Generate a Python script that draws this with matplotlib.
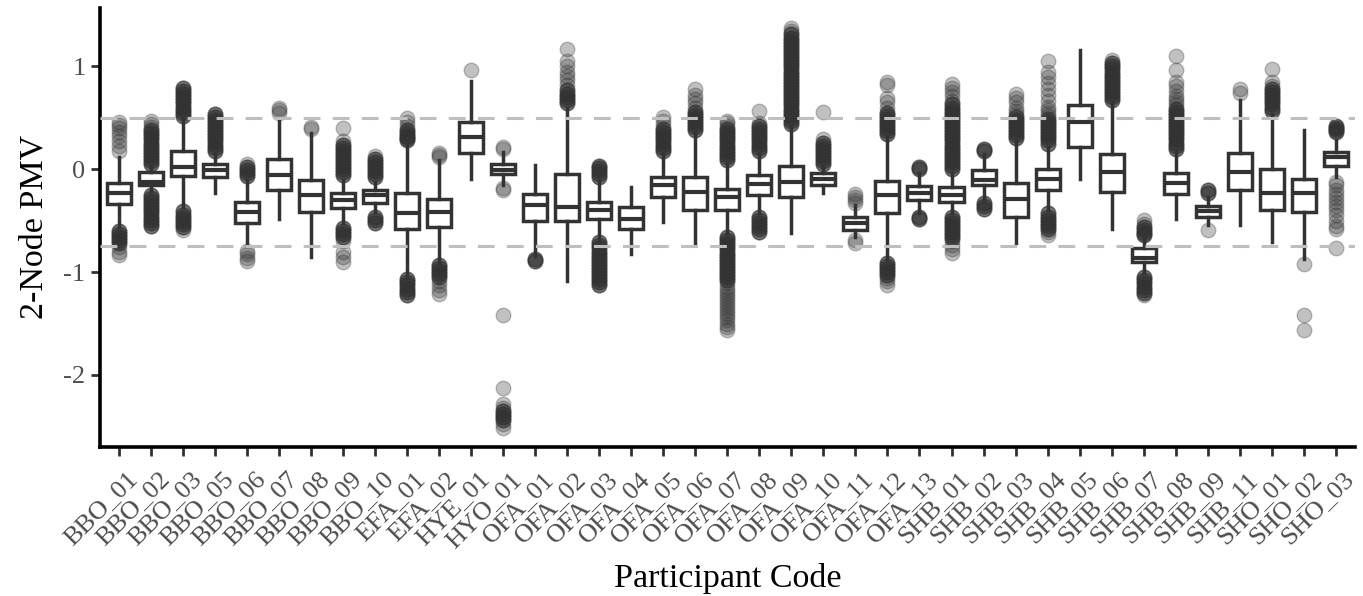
import matplotlib
matplotlib.use("Agg")
import matplotlib.pyplot as plt
from matplotlib.transforms import ScaledTranslation

plt.rcParams['font.family'] = ['Liberation Serif', 'DejaVu Serif']

participants = ["BBO_01", "BBO_02", "BBO_03", "BBO_05", "BBO_06", "BBO_07", "BBO_08", "BBO_09", "BBO_10",
                "EFA_01", "EFA_02", "HYE_01", "HYO_01", "OFA_01", "OFA_02", "OFA_03", "OFA_04", "OFA_05",
                "OFA_06", "OFA_07", "OFA_08", "OFA_09", "OFA_10", "OFA_11", "OFA_12", "OFA_13", "SHB_01",
                "SHB_02", "SHB_03", "SHB_04", "SHB_05", "SHB_06", "SHB_07", "SHB_08", "SHB_09", "SHB_11",
                "SHO_01", "SHO_02", "SHO_03"]

medians = [-0.23, -0.12, 0.02, -0.01, -0.415, -0.06, -0.25, -0.30, -0.25,
           -0.43, -0.42, 0.31, -0.01, -0.35, -0.37, -0.40, -0.48, -0.15,
           -0.22, -0.27, -0.14, -0.12, -0.09, -0.52, -0.25, -0.23, -0.25,
           -0.107, -0.29, -0.09, 0.46, -0.03, -0.86, -0.13, -0.41, -0.03,
           -0.23, -0.23, 0.12]
q1 = [-0.34, -0.155, -0.07, -0.075, -0.52, -0.20, -0.42, -0.38, -0.33,
      -0.58, -0.56, 0.16, -0.05, -0.50, -0.50, -0.48, -0.58, -0.27,
      -0.40, -0.40, -0.25, -0.27, -0.155, -0.59, -0.43, -0.30, -0.32,
      -0.155, -0.46, -0.20, 0.22, -0.22, -0.90, -0.24, -0.46, -0.20,
      -0.40, -0.42, 0.03]
q3 = [-0.133, -0.03, 0.18, 0.055, -0.32, 0.10, -0.10, -0.23, -0.20,
      -0.23, -0.29, 0.46, 0.055, -0.24, -0.05, -0.32, -0.37, -0.075,
      -0.075, -0.19, -0.06, 0.03, -0.04, -0.46, -0.11, -0.165, -0.17,
      -0.01, -0.13, 0.0, 0.62, 0.15, -0.77, -0.04, -0.36, 0.16,
      0.0, -0.09, 0.17]
whisker_low = [-0.56, -0.21, -0.37, -0.23, -0.75, -0.48, -0.85, -0.52, -0.42,
               -1.05, -0.91, -0.09, -0.155, -0.84, -1.09, -0.69, -0.82, -0.51,
               -0.74, -0.62, -0.43, -0.62, -0.23, -0.66, -0.88, -0.43, -0.43,
               -0.30, -0.72, -0.40, -0.09, -0.58, -1.01, -0.48, -0.54, -0.54,
               -0.71, -0.87, -0.075]
whisker_high = [0.12, 0.02, 0.50, 0.15, -0.10, 0.48, 0.35, -0.10, -0.12,
                0.25, 0.09, 0.86, 0.17, 0.04, 0.60, -0.11, -0.17, 0.15,
                0.35, 0.06, 0.15, 0.41, 0.02, -0.35, 0.31, -0.04, -0.04,
                0.15, 0.27, 0.22, 1.16, 0.64, -0.66, 0.17, -0.27, 0.67,
                0.54, 0.385, 0.28]

# Isolated outlying observations (one observation each)
outliers_single = [
    [0.46, 0.43, 0.40, 0.36, 0.32, 0.27, 0.23, 0.18, -0.76, -0.80, -0.83],      # BBO_01
    [0.41, 0.44, 0.47],                                                          # BBO_02
    [-0.59],                                                                     # BBO_03
    [],                                                                          # BBO_05
    [0.05, -0.79, -0.82, -0.86, -0.89],                                          # BBO_06
    [0.55, 0.58, 0.60],                                                          # BBO_07
    [0.39, 0.41],                                                                # BBO_08
    [0.27, 0.40, -0.70, -0.80, -0.85, -0.90],                                    # BBO_09
    [0.13],                                                                      # BBO_10
    [0.42, 0.46, 0.50],                                                          # EFA_01
    [0.12, 0.14, 0.16, -1.09, -1.13, -1.17, -1.21],                              # EFA_02
    [0.96],                                                                      # HYE_01
    [0.20, 0.22, -0.18, -0.20, -1.42, -2.13, -2.28, -2.32, -2.48, -2.52],        # HYO_01
    [],                                                                          # OFA_01
    [0.82, 0.87, 0.91, 0.95, 1.00, 1.05, 1.17],                                  # OFA_02
    [],                                                                          # OFA_03
    [],                                                                          # OFA_04
    [0.43, 0.47, 0.51],                                                          # OFA_05
    [0.60, 0.64, 0.68, 0.72, 0.78],                                              # OFA_06
    [0.42, 0.45, 0.47, -1.11, -1.14, -1.17, -1.20, -1.23, -1.26, -1.29, -1.32,
     -1.35, -1.38, -1.41, -1.44, -1.47, -1.50, -1.53, -1.56],                    # OFA_07
    [0.45, 0.57],                                                                # OFA_08
    [1.34, 1.37],                                                                # OFA_09
    [0.29, 0.56],                                                                # OFA_10
    [-0.24, -0.27, -0.30, -0.33, -0.69, -0.72],                                  # OFA_11
    [0.60, 0.65, 0.69, 0.82, 0.85, -1.06, -1.09, -1.13],                         # OFA_12
    [],                                                                          # OFA_13
    [0.66, 0.71, 0.75, 0.79, 0.83, -0.70, -0.74, -0.78, -0.81],                  # SHB_01
    [],                                                                          # SHB_02
    [0.54, 0.57, 0.60, 0.65, 0.69, 0.73],                                        # SHB_03
    [0.52, 0.55, 0.58, 0.61, 0.66, 0.72, 0.78, 0.84, 0.90, 0.95, 1.05,
     -0.61, -0.64],                                                              # SHB_04
    [],                                                                          # SHB_05
    [1.06],                                                                      # SHB_06
    [-0.49, -0.53, -1.22],                                                       # SHB_07
    [0.62, 0.65, 0.68, 0.71, 0.76, 0.81, 0.85, 0.96, 1.10],                      # SHB_08
    [-0.59],                                                                     # SHB_09
    [0.74, 0.78],                                                                # SHB_11
    [0.81, 0.85, 0.97],                                                          # SHO_01
    [-0.92, -1.42, -1.56],                                                       # SHO_02
    [-0.12, -0.15, -0.20, -0.24, -0.28, -0.32, -0.36, -0.40, -0.44, -0.50,
     -0.55, -0.58, -0.77],                                                       # SHO_03
]

# Heavily overplotted outlying values (several observations at each value)
outliers_dense = [
    [-0.60, -0.63, -0.66, -0.69, -0.72],                                         # BBO_01
    [0.38, 0.35, 0.32, 0.29, 0.26, 0.23, 0.20, 0.17, 0.14, 0.11, 0.08, 0.05,
     -0.25, -0.28, -0.31, -0.34, -0.37, -0.40, -0.43, -0.46, -0.49, -0.52, -0.55],  # BBO_02
    [0.52, 0.55, 0.58, 0.61, 0.64, 0.67, 0.70, 0.73, 0.76, 0.79,
     -0.41, -0.44, -0.47, -0.50, -0.53, -0.56],                                  # BBO_03
    [0.18, 0.21, 0.24, 0.27, 0.30, 0.33, 0.36, 0.39, 0.42, 0.45, 0.48, 0.51, 0.54],  # BBO_05
    [-0.07, -0.04, -0.01, 0.02],                                                 # BBO_06
    [],                                                                          # BBO_07
    [],                                                                          # BBO_08
    [-0.06, -0.03, 0.0, 0.03, 0.06, 0.09, 0.12, 0.15, 0.18, 0.21, 0.24,
     -0.57, -0.60, -0.63, -0.66],                                                # BBO_09
    [-0.08, -0.05, -0.02, 0.01, 0.04, 0.07, 0.10, -0.46, -0.49, -0.52],          # BBO_10
    [0.28, 0.30, 0.32, 0.35, 0.38, -1.07, -1.10, -1.13, -1.16, -1.19, -1.22],    # EFA_01
    [-0.93, -0.96, -0.99, -1.02, -1.05],                                         # EFA_02
    [],                                                                          # HYE_01
    [-2.35, -2.38, -2.41, -2.44],                                                # HYO_01
    [-0.87, -0.89],                                                              # OFA_01
    [0.64, 0.67, 0.70, 0.73, 0.77],                                              # OFA_02
    [-0.08, -0.05, -0.02, 0.01, 0.03,
     -0.71, -0.74, -0.77, -0.80, -0.83, -0.86, -0.89, -0.92, -0.95, -0.98,
     -1.01, -1.04, -1.07, -1.10, -1.13],                                         # OFA_03
    [],                                                                          # OFA_04
    [0.18, 0.21, 0.24, 0.27, 0.30, 0.33, 0.36, 0.39],                            # OFA_05
    [0.38, 0.41, 0.44, 0.47, 0.50, 0.53, 0.56],                                  # OFA_06
    [0.09, 0.12, 0.15, 0.18, 0.21, 0.24, 0.27, 0.30, 0.33, 0.36, 0.39,
     -0.66, -0.69, -0.72, -0.75, -0.78, -0.81, -0.84, -0.87, -0.90, -0.93,
     -0.96, -0.99, -1.02, -1.05, -1.08],                                         # OFA_07
    [0.18, 0.21, 0.24, 0.27, 0.30, 0.33, 0.36, 0.39, 0.42,
     -0.46, -0.49, -0.52, -0.55, -0.58, -0.61],                                  # OFA_08
    [0.44, 0.47, 0.50, 0.53, 0.56, 0.59, 0.62, 0.65, 0.68, 0.71, 0.74, 0.77,
     0.80, 0.83, 0.86, 0.89, 0.92, 0.95, 0.98, 1.01, 1.04, 1.07, 1.10, 1.13,
     1.16, 1.19, 1.22, 1.25, 1.28, 1.31],                                        # OFA_09
    [0.05, 0.08, 0.11, 0.14, 0.17, 0.20, 0.23, 0.26],                            # OFA_10
    [],                                                                          # OFA_11
    [0.34, 0.37, 0.40, 0.43, 0.46, 0.49, 0.52, 0.55,
     -0.91, -0.94, -0.97, -1.00, -1.03],                                         # OFA_12
    [0.0, 0.02, -0.46, -0.48],                                                   # OFA_13
    [0.0, 0.03, 0.06, 0.09, 0.12, 0.15, 0.18, 0.21, 0.24, 0.27, 0.30, 0.33,
     0.36, 0.39, 0.42, 0.45, 0.48, 0.51, 0.54, 0.57, 0.60, 0.63,
     -0.46, -0.49, -0.52, -0.55, -0.58, -0.61, -0.64, -0.67],                    # SHB_01
    [0.18, 0.20, -0.33, -0.36, -0.39],                                           # SHB_02
    [0.30, 0.33, 0.36, 0.39, 0.42, 0.45, 0.48, 0.51],                            # SHB_03
    [0.25, 0.28, 0.31, 0.34, 0.37, 0.40, 0.43, 0.46, 0.49,
     -0.43, -0.46, -0.49, -0.52, -0.55, -0.58],                                  # SHB_04
    [],                                                                          # SHB_05
    [0.67, 0.70, 0.73, 0.76, 0.79, 0.82, 0.85, 0.88, 0.91, 0.94, 0.97, 1.00, 1.03],  # SHB_06
    [-0.56, -0.59, -0.62, -0.64,
     -1.05, -1.08, -1.11, -1.14, -1.17, -1.20],                                  # SHB_07
    [0.20, 0.23, 0.26, 0.29, 0.32, 0.35, 0.38, 0.41, 0.44, 0.47, 0.50, 0.53,
     0.56, 0.59],                                                                # SHB_08
    [-0.20, -0.23],                                                              # SHB_09
    [],                                                                          # SHB_11
    [0.57, 0.60, 0.63, 0.66, 0.69, 0.72, 0.75, 0.78],                            # SHO_01
    [],                                                                          # SHO_02
    [0.36, 0.38, 0.40, 0.42],                                                    # SHO_03
]
dense_repeat = 3  # observations stacked at each overplotted value

reference_lines = [0.5, -0.75]
y_ticks = [-2, -1, 0, 1]

dark = '#333333'

fig = plt.figure(figsize=(13.63, 5.96), dpi=100)
ax = fig.add_axes([0.0734, 0.25, 0.9206, 0.737])

stats = []
for i, name in enumerate(participants):
    fl = list(outliers_single[i]) + list(outliers_dense[i]) * dense_repeat
    stats.append(dict(label=name, med=medians[i], q1=q1[i], q3=q3[i],
                      whislo=whisker_low[i], whishi=whisker_high[i], fliers=fl))

positions = list(range(1, len(participants) + 1))
ax.bxp(stats, positions=positions, widths=0.75, patch_artist=True, showcaps=False,
       boxprops=dict(facecolor='white', edgecolor=dark, linewidth=2.5),
       whiskerprops=dict(color=dark, linewidth=2.5),
       medianprops=dict(color=dark, linewidth=3.0, solid_capstyle='butt'),
       flierprops=dict(marker='o', markersize=10.5, markerfacecolor=dark,
                       markeredgecolor=dark, markeredgewidth=1.0, alpha=0.3,
                       linestyle='none'))

for yv in reference_lines:
    ax.axhline(yv, color='#bfbfbf', linewidth=2.2, dashes=(5.5, 4.0), zorder=5)

ax.set_xlim(0.4, len(participants) + 0.6)
ax.set_ylim(-2.70, 1.57)
ax.set_yticks(y_ticks)
ax.set_yticklabels([str(t) for t in y_ticks])
ax.set_xticks(positions)
ax.set_xticklabels([])

# rotated category labels, anchored at their top-right corner just below each tick
label_tf = ax.get_xaxis_transform() + ScaledTranslation(7 / 100, -21 / 100, fig.dpi_scale_trans)
for pos, name in zip(positions, participants):
    ax.text(pos, 0, name, transform=label_tf, rotation=45, rotation_mode='anchor',
            ha='right', va='top', fontsize=19, color='#4d4d4d', clip_on=False)

for side in ['top', 'right']:
    ax.spines[side].set_visible(False)
for side in ['left', 'bottom']:
    ax.spines[side].set_linewidth(2.6)
    ax.spines[side].set_color('black')

ax.tick_params(axis='both', length=6.5, width=2.0, color='#333333', labelcolor='#4d4d4d',
               labelsize=19)
ax.tick_params(axis='y', pad=4)

ax.set_xlabel('Participant Code', fontsize=24.5, color='black', va='baseline')
ax.xaxis.set_label_coords(0.5, -(587 - 447) / (0.737 * 596))
ax.set_ylabel('2-Node PMV', fontsize=24.5, color='black', labelpad=10)

fig.savefig('out.png', dpi=100)
